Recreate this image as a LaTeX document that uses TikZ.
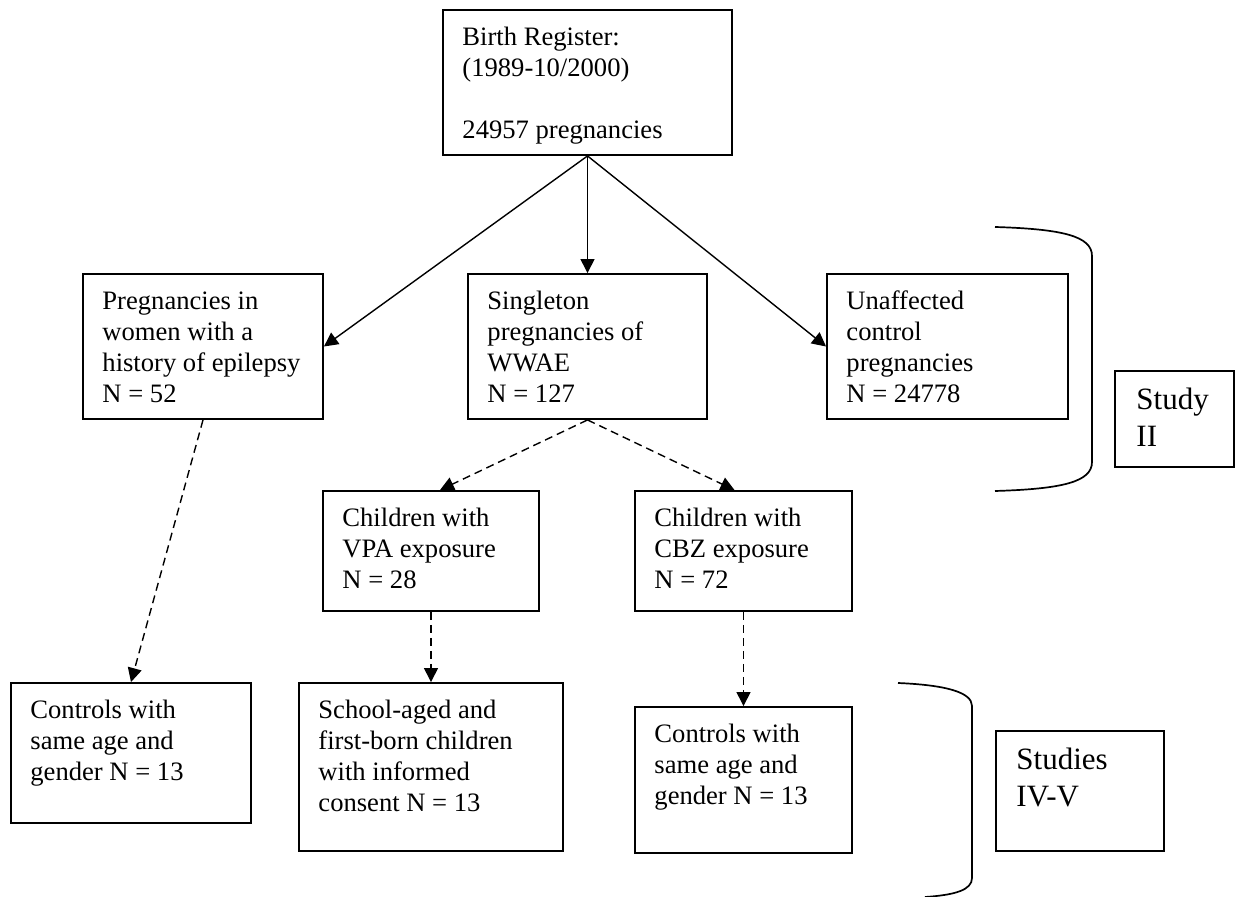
\documentclass[tikz,border=0pt]{standalone}
\usepackage{fontspec}
\setmainfont{Liberation Serif}
\usetikzlibrary{arrows.meta}
\newcommand{\fs}{\rule{0pt}{10pt}}
\newcommand{\fb}{\rule{0pt}{12pt}}
\begin{document}
\begin{tikzpicture}[x=0.5pt,y=-0.5pt,
  frame/.style={draw, line width=0.95pt, inner sep=0pt, rectangle},
  txt/.style={anchor=north west, inner sep=0pt, align=left, font=\fontsize{13.3pt}{15.5pt}\selectfont},
  bigtxt/.style={anchor=north west, inner sep=0pt, align=left, font=\fontsize{15.5pt}{18.3pt}\selectfont},
  conn/.style={line width=0.7pt, -{Triangle[length=7pt,width=7pt]}},
  dconn/.style={conn, dash pattern=on 4pt off 2.5pt},
  brace/.style={line width=0.85pt}]
\useasboundingbox (0,0) rectangle (1236,897);
% boxes
\node[frame, minimum width=144.5pt, minimum height=72.5pt] (top) at (587.5,82.5) {};
\node[frame, minimum width=120pt, minimum height=72.5pt] (preg) at (203,346.5) {};
\node[frame, minimum width=119.5pt, minimum height=72.5pt] (single) at (587.5,346.5) {};
\node[frame, minimum width=120.5pt, minimum height=72.5pt] (unaff) at (947.5,346.5) {};
\node[frame, minimum width=59.5pt, minimum height=48pt] (studyii) at (1174.5,419) {};
\node[frame, minimum width=108pt, minimum height=60pt] (vpa) at (431,551) {};
\node[frame, minimum width=108.5pt, minimum height=60pt] (cbz) at (743.5,551) {};
\node[frame, minimum width=120pt, minimum height=70pt] (ctrll) at (131,753) {};
\node[frame, minimum width=132pt, minimum height=84pt] (school) at (431,767) {};
\node[frame, minimum width=108.5pt, minimum height=73pt] (ctrlr) at (743.5,780) {};
\node[frame, minimum width=84pt, minimum height=60pt] (studies) at (1080,791) {};
% texts
\node[txt] (topT) at ([xshift=10pt,yshift=-8pt]top.north west) {\fs Birth Register:\\(1989-10/2000)\\[15.5pt]24957 pregnancies};
\node[txt] (pregT) at ([xshift=10pt,yshift=-8pt]preg.north west) {\fs Pregnancies in\\women with a\\history of epilepsy\\N = 52};
\node[txt] (singleT) at ([xshift=10pt,yshift=-8pt]single.north west) {\fs Singleton\\pregnancies of\\WWAE\\N = 127};
\node[txt] (unaffT) at ([xshift=10pt,yshift=-8pt]unaff.north west) {\fs Unaffected\\control\\pregnancies\\N = 24778};
\node[txt] (vpaT) at ([xshift=10pt,yshift=-8pt]vpa.north west) {\fs Children with\\VPA exposure\\N = 28};
\node[txt] (cbzT) at ([xshift=10pt,yshift=-8pt]cbz.north west) {\fs Children with\\CBZ exposure\\N = 72};
\node[txt] (ctrllT) at ([xshift=10pt,yshift=-8pt]ctrll.north west) {\fs Controls with\\same age and\\gender N = 13};
\node[txt] (schoolT) at ([xshift=10pt,yshift=-8pt]school.north west) {\fs School-aged and\\first-born children\\with informed\\consent N = 13};
\node[txt] (ctrlrT) at ([xshift=10pt,yshift=-8pt]ctrlr.north west) {\fs Controls with\\same age and\\gender N = 13};
\node[bigtxt] (studyiiT) at ([xshift=11pt,yshift=-7.5pt]studyii.north west) {\fb Study\\II};
\node[bigtxt] (studiesT) at ([xshift=10.5pt,yshift=-7.5pt]studies.north west) {\fb Studies\\IV-V};
% connectors
\draw[conn] (top.south) -- (preg.east);
\draw[conn] (top.south) -- (single.north);
\draw[conn] (top.south) -- (unaff.west);
\draw[dconn] (preg.south) -- (ctrll.north);
\draw[dconn] (single.south) -- ([xshift=4.5pt]vpa.north);
\draw[dconn] (single.south) -- ([xshift=-4.5pt]cbz.north);
\draw[dconn] (vpa.south) -- (school.north);
\draw[dconn] (cbz.south) -- (ctrlr.north);
% brackets
\coordinate (b1a) at (995,227);
\coordinate (b1b) at (995,491);
\coordinate (b2a) at (898,683);
\coordinate (b2b) at (925,897);
\draw[brace] (b1a) .. controls (1062,229) and (1092,236) .. (1092,256) -- (1092,462) .. controls (1092,482) and (1062,489) .. (b1b);
\draw[brace] (b2a) .. controls (945,685) and (972,692) .. (972,706) -- (972,878) .. controls (972,890) and (955,895) .. (b2b);
\end{tikzpicture}
\end{document}
